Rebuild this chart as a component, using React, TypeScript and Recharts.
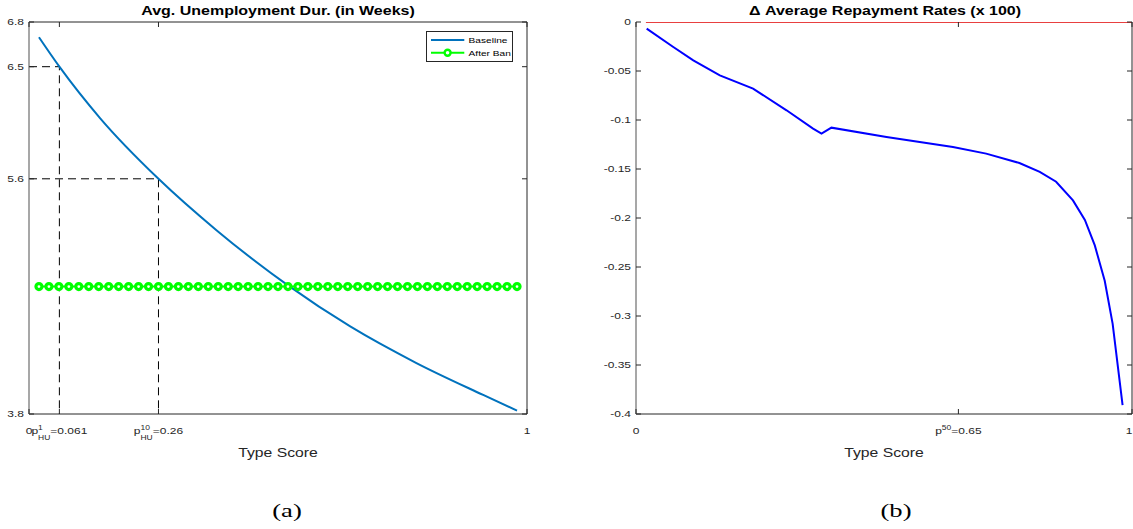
import React from 'react';
import { LineChart, Line, XAxis, YAxis, Legend, Label } from 'recharts';

// ---------- data ----------
// Panel (a): average unemployment duration
const typeScoreBase = [0.02, 0.061, 0.143, 0.26, 0.377, 0.518, 0.645, 0.778, 0.912, 0.98];
const durBase = [6.683, 6.458, 6.063, 5.6, 5.205, 4.79, 4.47, 4.19, 3.946, 3.826];

const scoreGrid = [
  0.02, 0.04, 0.06, 0.08, 0.1, 0.12, 0.14, 0.16, 0.18, 0.2, 0.22, 0.24, 0.26, 0.28, 0.3, 0.32, 0.34,
  0.36, 0.38, 0.4, 0.42, 0.44, 0.46, 0.48, 0.5, 0.52, 0.54, 0.56, 0.58, 0.6, 0.62, 0.64, 0.66, 0.68,
  0.7, 0.72, 0.74, 0.76, 0.78, 0.8, 0.82, 0.84, 0.86, 0.88, 0.9, 0.92, 0.94, 0.96, 0.98,
];
const durAfterBan = [
  4.775, 4.775, 4.775, 4.775, 4.775, 4.775, 4.775, 4.775, 4.775, 4.775, 4.775, 4.775, 4.775, 4.775,
  4.775, 4.775, 4.775, 4.775, 4.775, 4.775, 4.775, 4.775, 4.775, 4.775, 4.775, 4.775, 4.775, 4.775,
  4.775, 4.775, 4.775, 4.775, 4.775, 4.775, 4.775, 4.775, 4.775, 4.775, 4.775, 4.775, 4.775, 4.775,
  4.775, 4.775, 4.775, 4.775, 4.775, 4.775, 4.775,
];

const pHU1 = 0.061;
const durAtP1 = 6.458;
const pHU10 = 0.26;
const durAtP10 = 5.6;
const durFloor = 3.8;
const durCeil = 6.8;
const durTicks = [3.8, 5.6, 6.458, 6.8];
const durTickLabels = ['3.8', '5.6', '6.5', '6.8'];
const scoreTicksA = [0, 0.061, 0.26, 1];

// Panel (b): change in average repayment rates (x 100)
const typeScoreDelta = [
  0.0215, 0.0752, 0.1155, 0.169, 0.236, 0.3035, 0.357, 0.374, 0.394, 0.505, 0.639, 0.706, 0.773,
  0.814, 0.847, 0.881, 0.905, 0.925, 0.945, 0.961, 0.981,
];
const deltaRepay = [
  -0.0067, -0.0255, -0.0391, -0.0544, -0.068, -0.0901, -0.1088, -0.1139, -0.1078, -0.1173, -0.1276,
  -0.1343, -0.1439, -0.153, -0.163, -0.182, -0.202, -0.228, -0.264, -0.308, -0.391,
];
const zeroLineX = [0.02, 1];
const zeroLineY = [0, 0];
const deltaTicks = [-0.4, -0.35, -0.3, -0.25, -0.2, -0.15, -0.1, -0.05, 0];
const deltaTickLabels = ['-0.4', '-0.35', '-0.3', '-0.25', '-0.2', '-0.15', '-0.1', '-0.05', '0'];
const p50 = 0.65;
const scoreTicksB = [0, 0.65, 1];

const legendOrder = ['Baseline', 'After Ban'];

// ---------- styling ----------
const SANS = '"Liberation Sans", Arial, Helvetica, sans-serif';
const SERIF = '"Liberation Serif", "Times New Roman", serif';
const SX = 1.25;
const AXIS = '#262626';
const AXIS_LEFT = '#8a8a8a';
const TICK_LEN = 5;
const TICK_FS = 9.6;
const SCRIPT_FS = 6.8;
const BLUE_BASE = '#0072BD';
const GREEN = '#00ff00';
const BLUE = '#0000ff';
const RED = '#e00000';

const CW: Record<string, number> = { p: 0.556, H: 0.722, U: 0.722, '=': 0.584, '.': 0.278, '-': 0.333 };
const textWidth = (s: string, size: number) =>
  s.split('').reduce((acc, ch) => acc + (CW[ch] !== undefined ? CW[ch] : 0.556), 0) * size;

function SText(props: {
  x: number; y: number; anchor?: string; size: number; weight?: string | number;
  family?: string; fill?: string; sx?: number; children: React.ReactNode;
}) {
  const { x, y, anchor = 'middle', size, weight = 'normal', family = SANS, fill = AXIS, sx = SX, children } = props;
  return (
    <text
      transform={`translate(${x},${y}) scale(${sx},1)`}
      textAnchor={anchor as any}
      fontSize={size}
      fontWeight={weight as any}
      fontFamily={family}
      fill={fill}
    >
      {children}
    </text>
  );
}

function MathLabel(props: { cx: number; y: number; base: string; sup: string; sub?: string; rest: string }) {
  const { cx, y, base, sup, sub, rest } = props;
  const wBase = textWidth(base, TICK_FS);
  const wScript = Math.max(textWidth(sup, SCRIPT_FS), sub ? textWidth(sub, SCRIPT_FS) : 0);
  const wRest = textWidth(rest, TICK_FS);
  const total = (wBase + wScript + wRest) * SX;
  const x0 = cx - total / 2;
  return (
    <text
      transform={`translate(${x0},${y}) scale(${SX},1)`}
      textAnchor="start"
      fontSize={TICK_FS}
      fontFamily={SANS}
      fill={AXIS}
    >
      {base}
      <tspan x={wBase} dy={-4.5} fontSize={SCRIPT_FS}>{sup}</tspan>
      {sub ? <tspan x={wBase} dy={10.5} fontSize={SCRIPT_FS}>{sub}</tspan> : null}
      <tspan x={wBase + wScript} dy={sub ? -6 : 4.5} fontSize={TICK_FS}>{rest}</tspan>
    </text>
  );
}

// ---------- tick renderers (inward MATLAB-style ticks) ----------
const makeBottomTick = (render: (v: number, x: number, y: number) => React.ReactNode) => (props: any) => {
  const { x, y, payload } = props;
  return (
    <g>
      <line x1={x} y1={y} x2={x} y2={y - TICK_LEN} stroke={AXIS} strokeWidth={1} />
      {render(payload.value, x, y)}
    </g>
  );
};
const topTick = (props: any) => {
  const { x, y } = props;
  return <line x1={x} y1={y} x2={x} y2={y + TICK_LEN} stroke={AXIS} strokeWidth={1} />;
};
const makeLeftTick = (ticks: number[], labels: string[]) => (props: any) => {
  const { x, y, payload } = props;
  const i = ticks.indexOf(payload.value);
  return (
    <g>
      <line x1={x} y1={y} x2={x + TICK_LEN} y2={y} stroke={AXIS} strokeWidth={1} />
      <SText x={x - 5} y={y + 3.4} anchor="end" size={TICK_FS}>{i >= 0 ? labels[i] : String(payload.value)}</SText>
    </g>
  );
};
const rightTick = (props: any) => {
  const { x, y } = props;
  return <line x1={x} y1={y} x2={x - TICK_LEN} y2={y} stroke={AXIS} strokeWidth={1} />;
};

const renderScoreLabelA = (v: number, x: number, y: number) => {
  if (v === pHU1) return <MathLabel cx={x} y={y + 20} base="p" sup="1" sub="HU" rest={`=${pHU1}`} />;
  if (v === pHU10) return <MathLabel cx={x} y={y + 20} base="p" sup="10" sub="HU" rest={`=${pHU10}`} />;
  return <SText x={x} y={y + 20} size={TICK_FS}>{String(v)}</SText>;
};
const renderScoreLabelB = (v: number, x: number, y: number) => {
  if (v === p50) return <MathLabel cx={x} y={y + 20} base="p" sup="50" rest={`=${p50}`} />;
  if (v === 1) return <SText x={x - 3} y={y + 20} size={TICK_FS}>{String(v)}</SText>;
  return <SText x={x} y={y + 20} size={TICK_FS}>{String(v)}</SText>;
};

// ---------- legend ----------
function LegendBox({ payload }: { payload?: any[] }) {
  const items = legendOrder
    .map((name) => (payload || []).find((p) => p.value === name))
    .filter(Boolean) as any[];
  return (
    <svg width={88} height={32} style={{ display: 'block', overflow: 'visible' }}>
      <rect x={0.5} y={0.5} width={86} height={30} fill="#ffffff" stroke={AXIS} strokeWidth={1} />
      {items.map((it, i) => {
        const cy = 9 + i * 12.7;
        const isBan = it.value === 'After Ban';
        return (
          <g key={it.value}>
            <line x1={5} y1={cy} x2={38.3} y2={cy} stroke={it.color} strokeWidth={2} />
            {isBan ? <circle cx={21.6} cy={cy} r={3} fill="#ffffff" stroke={it.color} strokeWidth={2.4} /> : null}
            <SText x={42.6} y={cy + 3} anchor="start" size={8.1} fill="#000000">{it.value}</SText>
          </g>
        );
      })}
    </svg>
  );
}

// ---------- panels ----------
const baseData = typeScoreBase.map((x, i) => ({ x, y: durBase[i] }));
const banData = scoreGrid.map((x, i) => ({ x, y: durAfterBan[i] }));
const guide1 = [
  { x: 0, y: durAtP1 },
  { x: pHU1, y: durAtP1 },
  { x: pHU1, y: durFloor },
];
const guide10 = [
  { x: 0, y: durAtP10 },
  { x: pHU10, y: durAtP10 },
  { x: pHU10, y: durFloor },
];
const deltaData = typeScoreDelta.map((x, i) => ({ x, y: deltaRepay[i] }));
const zeroData = zeroLineX.map((x, i) => ({ x, y: zeroLineY[i] }));

function PanelA() {
  const plotLeft = 29;
  const plotRight = 527;
  const cx = (plotLeft + plotRight) / 2;
  return (
    <LineChart width={566} height={529} margin={{ top: 0, right: 0, bottom: 0, left: 0 }}>
      <XAxis
        xAxisId="b" orientation="bottom" dataKey="x" type="number" domain={[0, 1]} allowDataOverflow
        ticks={scoreTicksA} interval={0} height={115} tickSize={0} tickMargin={0} tickLine={false}
        axisLine={{ stroke: AXIS, strokeWidth: 1 }} tick={makeBottomTick(renderScoreLabelA)}
      >
        <Label
          content={() => (
            <g>
              <SText x={cx} y={457} size={12.6}>Type Score</SText>
              <SText x={287} y={516.7} size={19} family={SERIF} fill="#000000" sx={1.4}>(a)</SText>
            </g>
          )}
        />
      </XAxis>
      <XAxis
        xAxisId="t" orientation="top" dataKey="x" type="number" domain={[0, 1]} allowDataOverflow
        ticks={scoreTicksA} interval={0} height={22} tickSize={0} tickMargin={0} tickLine={false}
        axisLine={{ stroke: AXIS, strokeWidth: 1 }} tick={topTick}
      >
        <Label
          content={() => (
            <SText x={cx} y={15} size={12.8} weight="bold" fill="#000000">Avg. Unemployment Dur. (in Weeks)</SText>
          )}
        />
      </XAxis>
      <YAxis
        yAxisId="l" orientation="left" type="number" domain={[durFloor, durCeil]} allowDataOverflow
        ticks={durTicks} interval={0} width={29} tickSize={0} tickMargin={0} tickLine={false}
        axisLine={{ stroke: AXIS_LEFT, strokeWidth: 1.5 }} tick={makeLeftTick(durTicks, durTickLabels)}
      />
      <YAxis
        yAxisId="r" orientation="right" type="number" domain={[durFloor, durCeil]} allowDataOverflow
        ticks={durTicks} interval={0} width={39} tickSize={0} tickMargin={0} tickLine={false}
        axisLine={{ stroke: AXIS, strokeWidth: 1 }} tick={rightTick}
      />
      <Line
        xAxisId="b" yAxisId="l" data={guide1} dataKey="y" type="linear" stroke="#000000" strokeWidth={1}
        strokeDasharray="8 5" dot={false} activeDot={false} legendType="none" isAnimationActive={false}
      />
      <Line
        xAxisId="b" yAxisId="l" data={guide10} dataKey="y" type="linear" stroke="#000000" strokeWidth={1}
        strokeDasharray="8 5" dot={false} activeDot={false} legendType="none" isAnimationActive={false}
      />
      <Line
        xAxisId="b" yAxisId="l" data={baseData} dataKey="y" name="Baseline" type="monotone" stroke={BLUE_BASE}
        strokeWidth={2} dot={false} activeDot={false} isAnimationActive={false}
      />
      <Line
        xAxisId="b" yAxisId="l" data={banData} dataKey="y" name="After Ban" type="linear" stroke={GREEN}
        strokeWidth={2} dot={{ r: 3, stroke: GREEN, strokeWidth: 3.2, fill: '#ffffff' }} activeDot={false}
        isAnimationActive={false}
      />
      <Legend
        layout="horizontal" verticalAlign="middle" align="center" width={88} height={32}
        wrapperStyle={{ left: 426, top: 31, width: 88, height: 32 }}
        content={(p: any) => <LegendBox payload={p.payload} />}
      />
    </LineChart>
  );
}

function PanelB() {
  const plotLeft = 70;
  const plotRight = 566;
  const cx = (plotLeft + plotRight) / 2;
  return (
    <LineChart width={567} height={529} margin={{ top: 0, right: 0, bottom: 0, left: 0 }}>
      <XAxis
        xAxisId="b" orientation="bottom" dataKey="x" type="number" domain={[0, 1]} allowDataOverflow
        ticks={scoreTicksB} interval={0} height={115} tickSize={0} tickMargin={0} tickLine={false}
        axisLine={{ stroke: AXIS, strokeWidth: 1 }} tick={makeBottomTick(renderScoreLabelB)}
      >
        <Label
          content={() => (
            <g>
              <SText x={cx} y={457} size={12.6}>Type Score</SText>
              <SText x={330} y={516.7} size={19} family={SERIF} fill="#000000" sx={1.4}>(b)</SText>
            </g>
          )}
        />
      </XAxis>
      <XAxis
        xAxisId="t" orientation="top" dataKey="x" type="number" domain={[0, 1]} allowDataOverflow
        ticks={scoreTicksB} interval={0} height={22} tickSize={0} tickMargin={0} tickLine={false}
        axisLine={false} tick={topTick}
      >
        <Label
          content={() => (
            <SText x={cx + 1} y={15} size={12.8} weight="bold" fill="#000000">Δ Average Repayment Rates (x 100)</SText>
          )}
        />
      </XAxis>
      <YAxis
        yAxisId="l" orientation="left" type="number" domain={[-0.4, 0]} allowDataOverflow
        ticks={deltaTicks} interval={0} width={70} tickSize={0} tickMargin={0} tickLine={false}
        axisLine={{ stroke: AXIS_LEFT, strokeWidth: 1.5 }} tick={makeLeftTick(deltaTicks, deltaTickLabels)}
      />
      <YAxis
        yAxisId="r" orientation="right" type="number" domain={[-0.4, 0]} allowDataOverflow
        ticks={deltaTicks} interval={0} width={1} tickSize={0} tickMargin={0} tickLine={false}
        axisLine={{ stroke: AXIS, strokeWidth: 1 }} tick={rightTick}
      />
      <Line
        xAxisId="b" yAxisId="l" data={zeroData} dataKey="y" name="Zero" type="linear" stroke={RED}
        strokeWidth={1.5} dot={false} activeDot={false} legendType="none" isAnimationActive={false}
      />
      <Line
        xAxisId="b" yAxisId="l" data={deltaData} dataKey="y" name="Delta" type="linear" stroke={BLUE}
        strokeWidth={2} dot={false} activeDot={false} legendType="none" isAnimationActive={false}
      />
    </LineChart>
  );
}

export default function App() {
  return (
    <div
      style={{
        position: 'fixed', left: 0, top: 0, width: 1133, height: 529, background: '#ffffff', overflow: 'hidden',
      }}
    >
      <div style={{ position: 'absolute', left: 0, top: 0, width: 566, height: 529 }}>
        <PanelA />
      </div>
      <div style={{ position: 'absolute', left: 566, top: 0, width: 567, height: 529 }}>
        <PanelB />
      </div>
    </div>
  );
}
